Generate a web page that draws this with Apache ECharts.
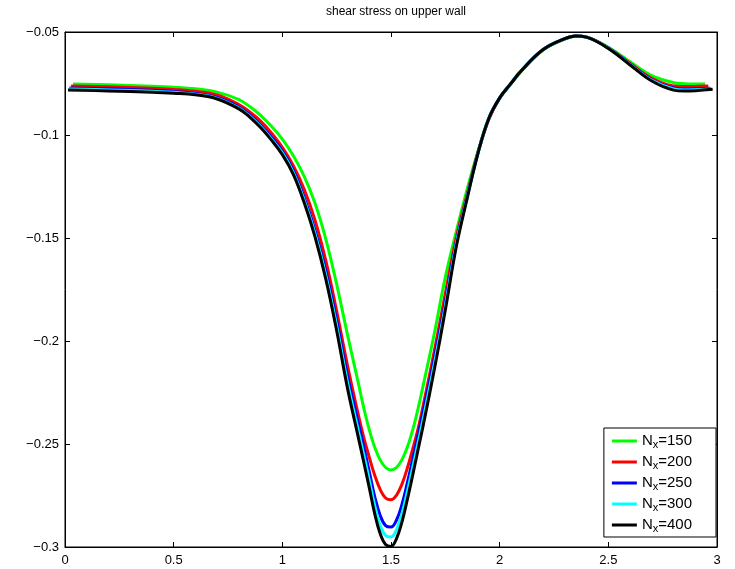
<!DOCTYPE html>
<html>
<head>
<meta charset="utf-8">
<script src="https://cdn.jsdelivr.net/npm/echarts@6/dist/echarts.min.js"></script>
<style>html,body{margin:0;padding:0;background:#fff}#c{width:735px;height:569px}</style>
</head>
<body>
<div id="c"></div>
<script>
// interior x grid shared by all series
const xGrid = [0.2, 0.4, 0.5, 0.6, 0.7, 0.8, 0.85, 0.9, 0.95, 1.0, 1.05, 1.1, 1.15, 1.2, 1.25, 1.3, 1.35, 1.375, 1.4, 1.425, 1.45, 1.475, 1.5, 1.525, 1.55, 1.575, 1.6, 1.625, 1.65, 1.7, 1.75, 1.8, 1.85, 1.9, 1.95, 2.0, 2.05, 2.1, 2.2, 2.3, 2.35, 2.4, 2.5, 2.6, 2.7, 2.8, 2.85, 2.9];
const seriesNames = ['150', '200', '250', '300', '400'];
const seriesColors = ['#00ff00', '#ff0000', '#0000ff', '#00ffff', '#000000'];
const startX = [0.037, 0.028, 0.02, 0.017, 0.014];
const endX = [2.945, 2.96, 2.97, 2.975, 2.98];

// values: [start, ...xGrid, end]
const nx150 = [-0.0752, -0.0756, -0.0763, -0.0768, -0.0776, -0.0792, -0.0828, -0.0862, -0.0905, -0.0958, -0.1020, -0.1100, -0.1200, -0.1330, -0.1505, -0.1725, -0.1970, -0.2206, -0.2326, -0.2431, -0.2516, -0.2577, -0.2614, -0.2626, -0.2614, -0.2577, -0.2516, -0.2431, -0.2326, -0.2206, -0.1960, -0.1690, -0.1470, -0.1265, -0.1080, -0.0918, -0.0822, -0.0755, -0.0690, -0.0588, -0.0534, -0.0521, -0.0526, -0.0574, -0.0645, -0.0712, -0.0746, -0.0751, -0.0752, -0.0752];
const nx200 = [-0.0762, -0.0766, -0.0773, -0.0779, -0.0788, -0.0806, -0.0852, -0.0888, -0.0932, -0.0990, -0.1060, -0.1148, -0.1262, -0.1412, -0.1610, -0.1855, -0.2120, -0.2360, -0.2470, -0.2564, -0.2652, -0.2720, -0.2762, -0.2771, -0.2749, -0.2696, -0.2618, -0.2524, -0.2424, -0.2304, -0.2045, -0.1770, -0.1500, -0.1290, -0.1085, -0.0924, -0.0821, -0.0753, -0.0688, -0.0586, -0.0533, -0.0520, -0.0525, -0.0577, -0.0652, -0.0725, -0.0762, -0.0765, -0.0764, -0.0762];
const nx250 = [-0.0772, -0.0776, -0.0783, -0.0789, -0.0799, -0.0818, -0.0864, -0.0903, -0.0952, -0.1011, -0.1078, -0.1170, -0.1301, -0.1461, -0.1660, -0.1900, -0.2170, -0.2401, -0.2516, -0.2634, -0.2755, -0.2846, -0.2896, -0.2903, -0.2870, -0.2795, -0.2689, -0.2574, -0.2454, -0.2333, -0.2080, -0.1810, -0.1520, -0.1300, -0.1088, -0.0920, -0.0820, -0.0752, -0.0687, -0.0585, -0.0532, -0.0519, -0.0525, -0.0578, -0.0656, -0.0732, -0.0772, -0.0777, -0.0776, -0.0773];
const nx300 = [-0.0777, -0.0781, -0.0788, -0.0793, -0.0802, -0.0822, -0.0869, -0.0909, -0.0959, -0.1019, -0.1087, -0.1181, -0.1315, -0.1478, -0.1681, -0.1927, -0.2202, -0.2438, -0.2555, -0.2675, -0.2799, -0.2894, -0.2944, -0.2951, -0.2917, -0.2840, -0.2732, -0.2614, -0.2492, -0.2369, -0.2108, -0.1830, -0.1530, -0.1305, -0.1089, -0.0920, -0.0820, -0.0751, -0.0686, -0.0585, -0.0532, -0.0519, -0.0525, -0.0579, -0.0658, -0.0735, -0.0776, -0.0781, -0.0780, -0.0777];
const nx400 = [-0.0782, -0.0786, -0.0792, -0.0797, -0.0805, -0.0825, -0.0873, -0.0913, -0.0964, -0.1025, -0.1095, -0.1190, -0.1327, -0.1493, -0.1700, -0.1950, -0.2230, -0.2470, -0.2590, -0.2712, -0.2838, -0.2935, -0.2988, -0.2997, -0.2960, -0.2880, -0.2770, -0.2650, -0.2525, -0.2400, -0.2135, -0.1850, -0.1545, -0.1310, -0.1090, -0.0920, -0.0820, -0.0752, -0.0687, -0.0585, -0.0532, -0.0519, -0.0525, -0.0580, -0.0660, -0.0738, -0.0782, -0.0787, -0.0785, -0.0778];
const seriesValues = [nx150, nx200, nx250, nx300, nx400];

const fmt = v => String(+(+v).toFixed(2)).replace('-', '\u2212');
const FONT = 'Liberation Sans, Arial, sans-serif';

const chart = echarts.init(document.getElementById('c'), null, {renderer: 'canvas'});
const series = seriesValues.map((vals, i) => {
  const xs = [startX[i], ...xGrid, endX[i]];
  return {
    name: 'N' + seriesNames[i],
    type: 'line',
    data: xs.map((x, k) => [x, vals[k]]),
    showSymbol: false,
    smooth: 0.4,
    lineStyle: {color: seriesColors[i], width: 3},
    itemStyle: {color: seriesColors[i]},
    z: 2 + i,
    clip: true
  };
});

const axisFont = {color: '#000', fontFamily: FONT, fontSize: 13};
chart.setOption({
  animation: false,
  backgroundColor: '#fff',
  title: {
    text: 'shear stress on upper wall',
    left: 391, top: 1, textAlign: 'center',
    textStyle: {fontFamily: FONT, fontSize: 12, fontWeight: 'normal', color: '#000'}
  },
  grid: {left: 65, right: 18, top: 32, bottom: 22, show: true, borderColor: '#000', borderWidth: 1, backgroundColor: '#fff'},
  xAxis: [
    {type: 'value', min: 0, max: 3, interval: 0.5, position: 'bottom',
     axisLine: {show: true, onZero: false, lineStyle: {color: '#000'}},
     axisTick: {inside: true, length: 5, lineStyle: {color: '#000'}},
     axisLabel: Object.assign({margin: 7, formatter: fmt}, axisFont),
     splitLine: {show: false}},
    {type: 'value', min: 0, max: 3, interval: 0.5, position: 'top',
     axisLine: {show: true, onZero: false, lineStyle: {color: '#000'}},
     axisTick: {inside: true, length: 5, lineStyle: {color: '#000'}},
     axisLabel: {show: false}, splitLine: {show: false}}
  ],
  yAxis: [
    {type: 'value', min: -0.3, max: -0.05, interval: 0.05, position: 'left',
     axisLine: {show: true, onZero: false, lineStyle: {color: '#000'}},
     axisTick: {inside: true, length: 5, lineStyle: {color: '#000'}},
     axisLabel: Object.assign({margin: 6, formatter: fmt}, axisFont),
     splitLine: {show: false}},
    {type: 'value', min: -0.3, max: -0.05, interval: 0.05, position: 'right',
     axisLine: {show: true, onZero: false, lineStyle: {color: '#000'}},
     axisTick: {inside: true, length: 5, lineStyle: {color: '#000'}},
     axisLabel: {show: false}, splitLine: {show: false}}
  ],
  legend: {
    orient: 'vertical',
    right: 19, bottom: 32,
    backgroundColor: '#fff',
    borderColor: '#000', borderWidth: 1, borderRadius: 0,
    padding: [4, 24, 3, 8],
    itemGap: 3,
    itemWidth: 25, itemHeight: 3,
    icon: 'rect',
    data: seriesNames.map((n, i) => ({name: 'N' + n, itemStyle: {color: seriesColors[i]}})),
    formatter: name => '{n|N}{s|x}{t|=' + name.slice(1) + '}',
    textStyle: {
      fontFamily: FONT, color: '#000',
      rich: {
        n: {fontSize: 15, lineHeight: 17, fontFamily: FONT, color: '#000', padding: [0, 0, 1, 0]},
        s: {fontSize: 11, lineHeight: 11, fontFamily: FONT, color: '#000', padding: [7, 0, 0, 0]},
        t: {fontSize: 15, lineHeight: 17, fontFamily: FONT, color: '#000', padding: [0, 0, 1, 0]}
      }
    }
  },
  series: series
});
</script>
</body>
</html>
